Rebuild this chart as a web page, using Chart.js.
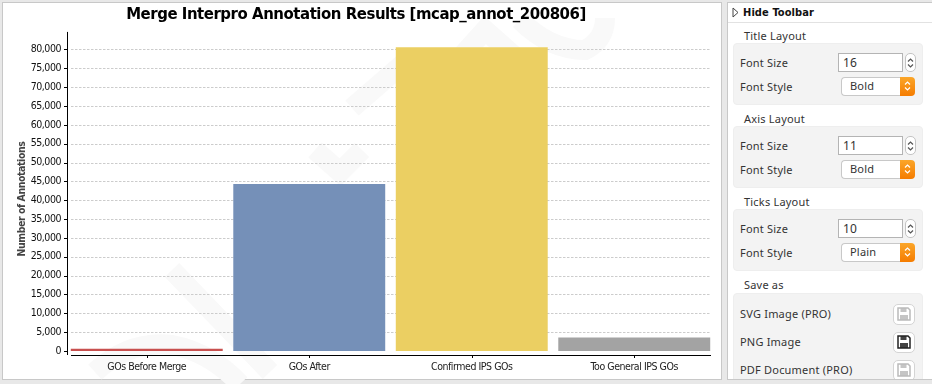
<!DOCTYPE html>
<html>
<head>
<meta charset="utf-8">
<script src="https://cdn.jsdelivr.net/npm/chart.js@4"></script>
<style>
html, body { margin: 0; padding: 0; background: #e8e8e8; width: 932px; height: 384px; overflow: hidden; }
#panel { position: absolute; left: 2px; top: 2px; width: 718px; height: 376px; background: #fff; border: 1px solid #c8c8c8; }
#mark { position: absolute; left: 0; top: 0; }
#tempChart { position: absolute; left: 0; top: 0; }
#side { position: absolute; left: 727px; top: 2px; width: 205px; height: 376px; background: #fff; border: 1px solid #c8c8c8; border-right: 0; overflow: hidden;
        font: 11px "Noto Sans", sans-serif; color: #333; letter-spacing: .2px; }
#side div { position: absolute; white-space: nowrap; box-sizing: border-box; }
.head { left: 0; top: 0; width: 205px; height: 20px; border-bottom: 1px solid #e2e2e2; }
.head b { position: absolute; left: 15px; top: 3px; color: #111; font: bold 11px "DejaVu Sans Condensed", sans-serif; letter-spacing: .1px; }
.head svg { position: absolute; left: 4px; top: 4px; }
.cap { left: 16px; }
.box { left: 5px; width: 190px; background: #f3f3f3; border: 1px solid #eee; border-radius: 4px; }
.lbl { left: 12px; }
.num { left: 110px; width: 65px; height: 19px; background: #fff; border: 1px solid #b4b4b4; padding-left: 4px; line-height: 18px; font-size: 12px; }
.step { left: 177px; width: 11px; height: 19px; background: #fff; border: 1px solid #c4c4c4; border-radius: 5px; }
.step svg, .org svg { display: block; margin: 3px auto 0; }
.sel { left: 113px; width: 60px; height: 19px; background: #fff; border: 1px solid #c8c8c8; border-right: 0; border-radius: 4px 0 0 4px; padding-left: 8px; line-height: 15px; }
.org { left: 172px; width: 15px; height: 19px; background: linear-gradient(#fba629, #f57c00); border-radius: 0 4px 4px 0; }
.btn { left: 165px; width: 22px; height: 21px; background: #fff; border: 1px solid #d4d4d4; border-radius: 5px; }
.btn svg { display: block; margin: 2px 3px; }
</style>
</head>
<body>
<div id="panel"></div>
<svg id="mark" width="724" height="384" fill="none" stroke="#f9f9f9" stroke-width="20">
  <path d="M172 270 L270 372"/>
  <path d="M95 372 Q130 340 172 345 Q210 352 240 384"/>
  <path d="M315 150 L340 172 L362 150"/>
  <path d="M352 108 L405 62"/>
  <path d="M440 80 L485 30 L530 70"/>
  <path d="M520 20 Q550 50 585 50 Q605 40 605 18"/>
</svg>
<canvas id="tempChart" width="724" height="384"></canvas>
<div id="side"></div>

<script>
const chartTitle = 'Merge Interpro Annotation Results [mcap_annot_200806]';
const yAxisTitle = 'Number of Annotations';
const categories = ['GOs Before Merge', 'GOs After', 'Confirmed IPS GOs', 'Too General IPS GOs'];
const annotationCounts = [620, 44300, 80600, 3600];
const barColors = ['#c8504f', '#7590b8', '#ebcf62', '#a3a3a3'];
const tickValues = [0, 5000, 10000, 15000, 20000, 25000, 30000, 35000, 40000, 45000, 50000, 55000, 60000, 65000, 70000, 75000, 80000];

const chartFont = '"DejaVu Sans Condensed", sans-serif';

// axis lines and dashed grid stop short of the plot edges in the original, so drawn by hand
const axisLines = {
    id: 'axisLines',
    afterLayout(chart) {
        // title is centred on the plot, not on the canvas
        chart.titleBlock.left = -3.5;
        chart.titleBlock.right = 715.5;
    },
    beforeDraw(chart) {
        // original font is narrower than anything installed
        chart.ctx.letterSpacing = '-0.45px';
    },
    beforeDatasetsDraw(chart) {
        const { ctx, scales: { x, y } } = chart;
        const yLine = 67.5, xLine = 355.5, xLeft = 71, xRight = 710;
        ctx.save();
        ctx.strokeStyle = '#cccccc';
        ctx.setLineDash([2.5, 1.5]);
        ctx.beginPath();
        tickValues.slice(1).forEach(v => {
            const py = Math.round(y.getPixelForValue(v)) + 0.5;
            ctx.moveTo(xLeft, py);
            ctx.lineTo(xRight, py);
        });
        ctx.stroke();
        ctx.setLineDash([]);
        ctx.strokeStyle = '#000';
        ctx.beginPath();
        ctx.moveTo(yLine, y.top);
        ctx.lineTo(yLine, 355);
        ctx.moveTo(xLeft, xLine);
        ctx.lineTo(xRight + 1, xLine);
        tickValues.forEach(v => {
            const py = Math.round(y.getPixelForValue(v)) + 0.5;
            ctx.moveTo(64, py);
            ctx.lineTo(yLine, py);
        });
        categories.forEach((c, i) => {
            const px = Math.round(x.getPixelForValue(i)) + 0.5;
            ctx.moveTo(px, xLine);
            ctx.lineTo(px, 358);
        });
        ctx.stroke();
        ctx.restore();
    },
    afterDraw(chart) {
        // axis title sits lower than the plot centre, the built in one can't do that
        const ctx = chart.ctx;
        ctx.save();
        ctx.translate(22, 199);
        ctx.rotate(-Math.PI / 2);
        ctx.font = 'bold 10.5px ' + chartFont;
        ctx.fillStyle = '#444';
        ctx.textAlign = 'center';
        ctx.textBaseline = 'middle';
        ctx.fillText(yAxisTitle, 0, 0);
        ctx.restore();
    }
};

new Chart(document.getElementById('tempChart').getContext('2d'), {
    type: 'bar',
    plugins: [axisLines],
    data: {
        labels: categories,
        datasets: [{
            data: annotationCounts,
            backgroundColor: barColors,
            borderWidth: 0,
            categoryPercentage: 1,
            barPercentage: 0.935
        }]
    },
    options: {
        responsive: false,
        animation: false,
        layout: { padding: { left: 16, right: 8.5, top: 3, bottom: 3 } },
        plugins: {
            legend: { display: false },
            tooltip: { enabled: false },
            title: {
                display: true,
                text: chartTitle,
                color: '#000',
                font: { family: chartFont, size: 16.6, weight: 'bold' },
                padding: { top: 2, bottom: 7 }
            }
        },
        scales: {
            y: {
                min: -1060,
                max: 84640,
                afterBuildTicks(s) { s.ticks = tickValues.map(v => ({ value: v })); },
                afterFit(s) { s.width = 49.5; },
                grid: { display: false, drawTicks: false },
                border: { display: false },
                ticks: {
                    color: '#111',
                    font: { family: chartFont, size: 10.5 },
                    padding: 4.5,
                    callback: v => v.toLocaleString('en-US')
                }
            },
            x: {
                afterFit(s) { s.height = 26; },
                grid: { display: false, drawTicks: false },
                border: { display: false },
                ticks: {
                    color: '#222',
                    font: { family: chartFont, size: 10.5 },
                    padding: 6,
                    maxRotation: 0
                }
            }
        }
    }
});

// right hand toolbar
const floppy = c => '<svg width="14" height="14" viewBox="0 0 14 14"><path d="M1 1h10l2 2v10H1z" fill="none" stroke="' + c + '" stroke-width="1.5"/><path d="M3.5 1v4h6V1M3 13V8h8v5" fill="' + c + '" opacity=".85"/></svg>';
const updown = c => '<svg width="7" height="12" viewBox="0 0 7 12" fill="none" stroke="' + c + '" stroke-width="1.2"><path d="M1 4.5L3.5 2L6 4.5M1 7.5L3.5 10L6 7.5"/></svg>';
const side = document.getElementById('side');
let html = '<div class="head"><svg width="7" height="11"><path d="M1 1L6 5.5L1 10Z" fill="#fff" stroke="#444"/></svg><b>Hide Toolbar</b></div>';
const groups = [['Title Layout', 25, '16', 'Bold'], ['Axis Layout', 108, '11', 'Bold'], ['Ticks Layout', 191, '10', 'Plain']];
groups.forEach(([name, top, size, style]) => {
    html += `<div class="cap" style="top:${top}px">${name}</div>`;
    html += `<div class="box" style="top:${top + 15}px;height:62px"></div>`;
    html += `<div class="lbl" style="top:${top + 27}px">Font Size</div>`;
    html += `<div class="num" style="top:${top + 25}px">${size}</div>`;
    html += `<div class="step" style="top:${top + 25}px">${updown('#555')}</div>`;
    html += `<div class="lbl" style="top:${top + 51}px">Font Style</div>`;
    html += `<div class="sel" style="top:${top + 49}px">${style}</div>`;
    html += `<div class="org" style="top:${top + 49}px">${updown('#fff')}</div>`;
});
html += '<div class="cap" style="top:274px">Save as</div>';
html += '<div class="box" style="top:290px;height:92px"></div>';
[['SVG Image (PRO)', 303, '#bbb'], ['PNG Image', 331, '#222'], ['PDF Document (PRO)', 359, '#bbb']].forEach(([name, top, c]) => {
    html += `<div class="lbl" style="top:${top}px">${name}</div>`;
    html += `<div class="btn" style="top:${top - 2}px">${floppy(c)}</div>`;
});
side.innerHTML = html;
</script>
</body>
</html>
